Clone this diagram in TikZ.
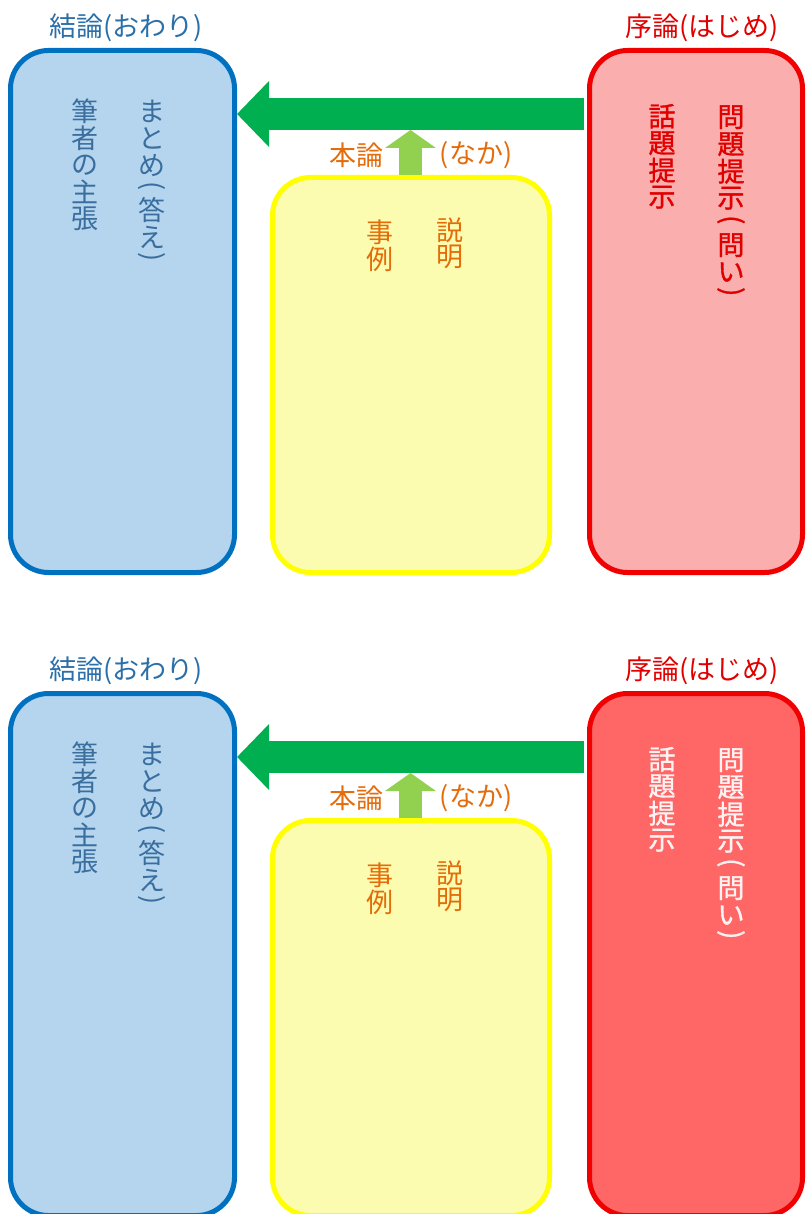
\documentclass[tikz,border=0pt]{standalone}
\usepackage{fontspec}
\usepackage{graphicx}
\newfontfamily\jp{Noto Sans CJK JP}
\newfontfamily\jpheavy[FakeBold=1.2]{Noto Sans CJK JP}
\usetikzlibrary{arrows.meta}
\definecolor{bluestroke}{HTML}{0070C0}
\definecolor{bluefill}{HTML}{B4D5ED}
\definecolor{bluetext}{HTML}{3A6E9F}
\definecolor{bluelabel}{HTML}{2B6FA9}
\definecolor{yellowstroke}{HTML}{FFFF00}
\definecolor{yellowfill}{HTML}{FCFCB0}
\definecolor{redstroke}{HTML}{F00000}
\definecolor{redfillA}{HTML}{FAAEAE}
\definecolor{redfillB}{HTML}{FF6666}
\definecolor{redtext}{HTML}{E00000}
\definecolor{paletext}{HTML}{FFF2F2}
\definecolor{orangetext}{HTML}{E46C0A}
\definecolor{biggreen}{HTML}{00B050}
\definecolor{lightgreen}{HTML}{92D050}
\newcommand\vch[2][27pt]{\vbox to #1{\vss\hbox to 28pt{\hss#2\hss}\vss}}
\newcommand\vcolumn[1]{\vbox{\offinterlineskip#1}}
\newcommand\vopen{\rotatebox[origin=c]{-90}{(}}
\newcommand\vclose{\rotatebox[origin=c]{-90}{)}}
\newcommand\drawpanel[4]{%
\begin{scope}[shift={(0,#1)}]
  \node[roundbox, draw=bluestroke, fill=bluefill, minimum width=224pt, minimum height=522pt] (conc#4) at (122.5,311.5) {};
  \node[roundbox, draw=yellowstroke, fill=yellowfill, minimum width=277pt, minimum height=395pt] (body#4) at (411,375) {};
  \node[roundbox, draw=redstroke, fill=#2, minimum width=213pt, minimum height=522pt] (intro#4) at (696,311.5) {};
  \node[labeltext, text=bluelabel] (conclabel#4) at (126,28) {結論(おわり)};
  \node[labeltext, text=redtext] (introlabel#4) at (702,28) {序論(はじめ)};
  \node[labeltext, text=orangetext] (bodylabelA#4) at (356,155) {本論};
  \node[labeltext, text=orangetext] (bodylabelB#4) at (476,155) {(なか)};
  \coordinate (arrowy#4) at (0,114);
  \draw[bigarrow] ([xshift=-3pt]intro#4.west |- arrowy#4) -- (conc#4.east |- arrowy#4);
  \coordinate (shaftbot#4) at (410.5,130);
  \draw[smallarrow] (body#4.north -| shaftbot#4) -- (shaftbot#4);
  \node[coltext, text=bluetext] (concA#4) at (85,97.5) {\vcolumn{\vch{筆}\vch{者}\vch{の}\vch{主}\vch{張}}};
  \node[coltext, text=bluetext] (concB#4) at (152,97.5) {\vcolumn{\vch{ま}\vch{と}\vch{め}\vch[18pt]{\vopen}\vch{答}\vch{え}\vch[16pt]{\vclose}}};
  \node[coltext, text=orangetext] (bodyA#4) at (380,218.5) {\vcolumn{\vch{事}\vch{例}}};
  \node[coltext, text=orangetext] (bodyB#4) at (450,216.5) {\vcolumn{\vch{説}\vch{明}}};
  \node[coltext, font=\jpheavy\fontsize{27}{27}\selectfont, text=#3] (introA#4) at (662,102.5) {\vcolumn{\vch{話}\vch{題}\vch{提}\vch{示}}};
  \node[coltext, font=\jpheavy\fontsize{27}{27}\selectfont, text=#3] (introB#4) at (731,103.5) {\vcolumn{\vch{問}\vch{題}\vch{提}\vch{示}\vch[20pt]{\vopen}\vch{問}\vch{い}\vch[16pt]{\vclose}}};
\end{scope}}
\begin{document}
\begin{tikzpicture}[x=1pt,y=-1pt,
  roundbox/.style={line width=5pt, rounded corners=38pt, inner sep=0pt, rectangle},
  labeltext/.style={font=\jp\fontsize{27}{30}\selectfont, inner sep=0pt},
  coltext/.style={font=\jp\fontsize{27}{27}\selectfont, inner sep=0pt, anchor=north},
  bigarrow/.style={draw=biggreen, line width=32pt, -{Triangle[length=32pt,width=64pt]}},
  smallarrow/.style={draw=lightgreen, line width=23pt, -{Triangle[length=18pt,width=50pt]}}]
\useasboundingbox (0,0) rectangle (806,1214);
\clip (0,0) rectangle (806,1214);
\fill[white] (0,0) rectangle (806,1214);
\drawpanel{0}{redfillA}{redtext}{t}
\drawpanel{643}{redfillB}{paletext}{b}
\end{tikzpicture}
\end{document}
